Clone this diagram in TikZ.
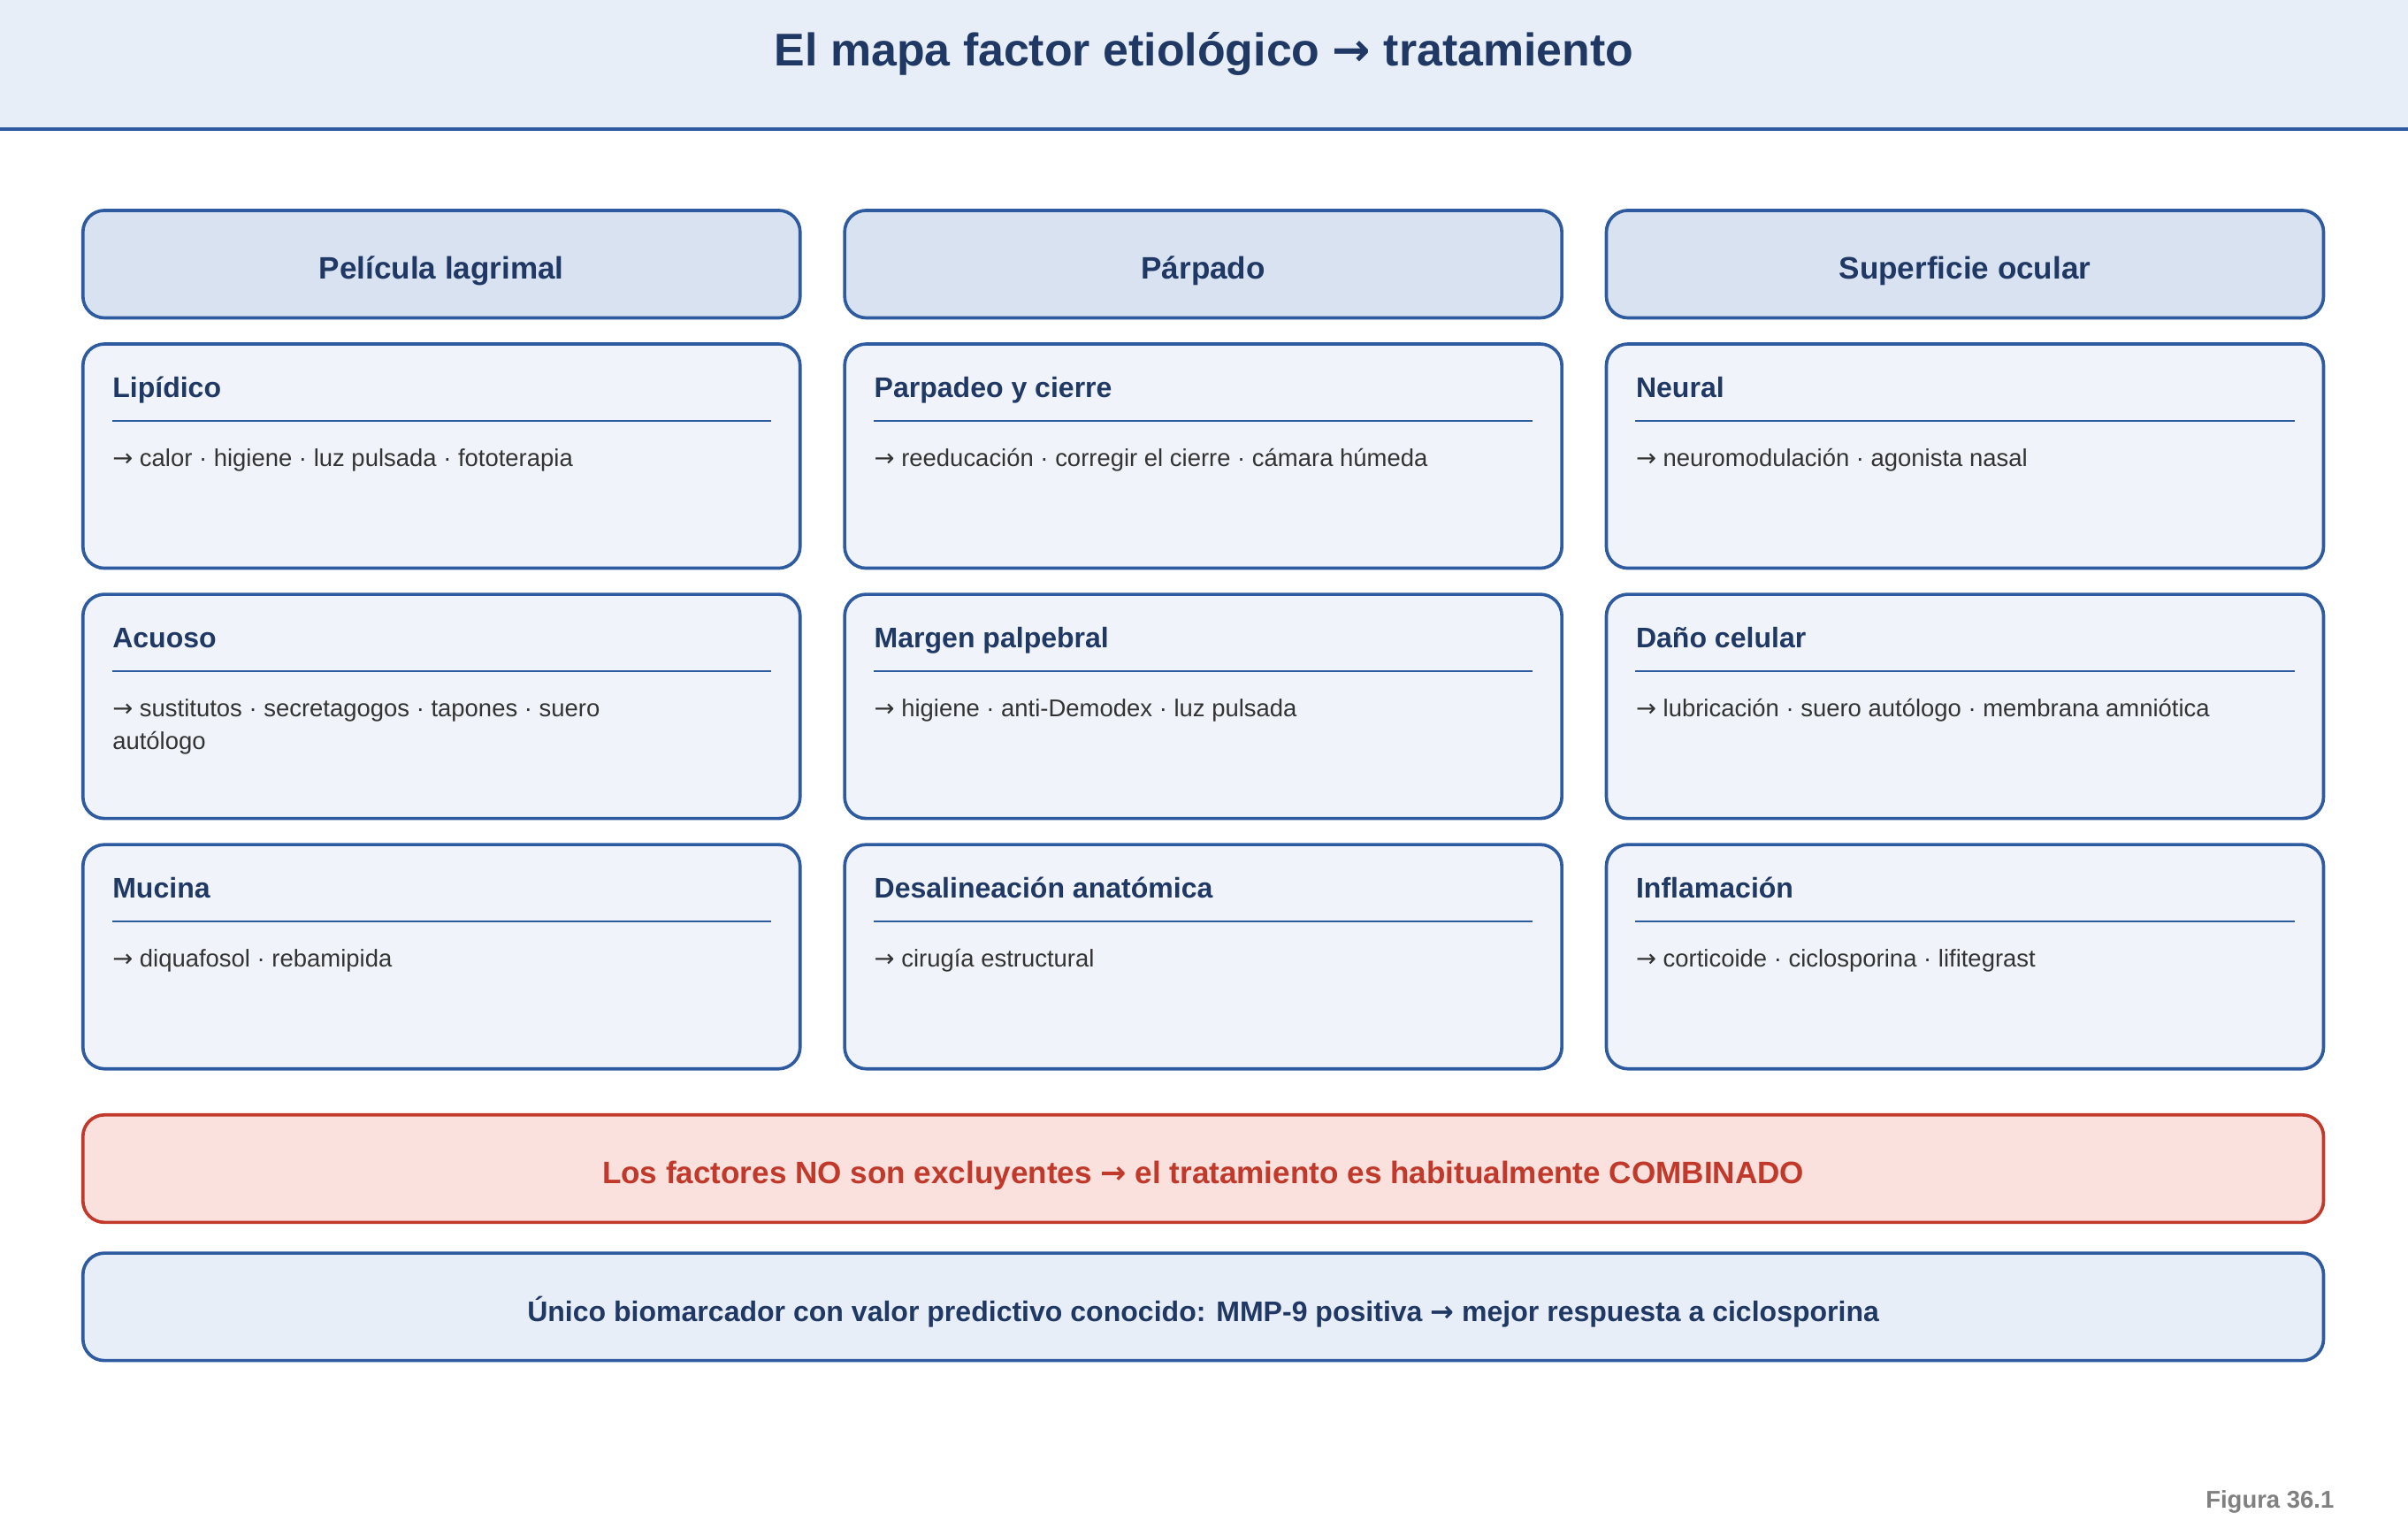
\documentclass[tikz,border=0pt]{standalone}
\usepackage{fontspec}
\setmainfont{Liberation Sans}
\newfontfamily\arwfont{DejaVu Sans}
\newcommand\arw{{\arwfont →}}
\usetikzlibrary{positioning}
\definecolor{navy}{HTML}{1F3864}
\definecolor{frame}{HTML}{2E5AA0}
\definecolor{headfill}{HTML}{D9E2F1}
\definecolor{cardfill}{HTML}{F0F4FA}
\definecolor{bandfill}{HTML}{E8EEF7}
\definecolor{alert}{HTML}{C0392B}
\definecolor{alertfill}{HTML}{FAE1DE}
\definecolor{bodytext}{HTML}{333333}
\begin{document}
\begin{tikzpicture}[
        x=0.02cm,y=-0.02cm,
        % Styles
        Head/.style={% column header
          draw=frame, fill=headfill, line width=1.2pt, rounded corners=8pt,
          minimum width=467*0.02cm, minimum height=70*0.02cm,
          text height=1.6ex+4.5pt, text depth=0.4ex,
          font=\fontsize{11.5}{14}\selectfont\bfseries, text=navy
        },
        Card/.style={% factor card
          draw=frame, fill=cardfill, line width=1.2pt, rounded corners=8pt,
          minimum width=467*0.02cm, minimum height=146*0.02cm
        },
        CardTitle/.style={anchor=base west, inner sep=0pt, text=navy,
          font=\fontsize{10.5}{13}\selectfont\bfseries},
        CardText/.style={anchor=north west, inner sep=0pt, text=bodytext, align=left,
          font=\fontsize{9}{12}\selectfont},
        Banner/.style={% wide boxes
          line width=1.2pt, rounded corners=8pt,
          minimum width=1459*0.02cm, minimum height=70*0.02cm,
          text height=1.6ex+4.5pt, text depth=0.4ex,
          font=\fontsize{11.5}{14}\selectfont\bfseries
        }
      ]
      \useasboundingbox (0,0) rectangle (1568,995);

      % Title band
      \fill[bandfill] (0,0) rectangle (1568,84);
      \draw[frame, line width=1.5pt] (0,84) coordinate (BandL) -- (1568,84) coordinate (BandR);
      \node[text=navy, font=\fontsize{17}{20}\selectfont\bfseries] (Title) at (784,35)
        {El mapa factor etiológico \arw{} tratamiento};

      % Column headers
      \node[Head] (H1) at (287.5,172) {Película lagrimal};
      \node[Head] (H2) at (783.5,172) {Párpado};
      \node[Head] (H3) at (1279.5,172) {Superficie ocular};

      % Cards: column/row/name/title/treatment
      \foreach \c/\r/\n/\t/\d in {
          0/0/LIP/Lipídico/{\arw{} calor · higiene · luz pulsada · fototerapia},
          0/1/ACU/Acuoso/{\arw{} sustitutos · secretagogos · tapones · suero\\autólogo},
          0/2/MUC/Mucina/{\arw{} diquafosol · rebamipida},
          1/0/PAR/Parpadeo y cierre/{\arw{} reeducación · corregir el cierre · cámara húmeda},
          1/1/MAR/Margen palpebral/{\arw{} higiene · anti-Demodex · luz pulsada},
          1/2/DES/Desalineación anatómica/{\arw{} cirugía estructural},
          2/0/NEU/Neural/{\arw{} neuromodulación · agonista nasal},
          2/1/DAN/Daño celular/{\arw{} lubricación · suero autólogo · membrana amniótica},
          2/2/INF/Inflamación/{\arw{} corticoide · ciclosporina · lifitegrast}}{
        \node[Card] (\n) at ({287.5+496*\c},{297+163*\r}) {};
        \node[CardTitle] (\n-t) at ([xshift=20*0.02cm, yshift=-36*0.02cm]\n.north west) {\t};
        \draw[frame, line width=0.7pt] ([xshift=20*0.02cm, yshift=-51*0.02cm]\n.north west)
          -- ([xshift=-20*0.02cm, yshift=-51*0.02cm]\n.north east);
        \node[CardText] (\n-d) at ([xshift=20*0.02cm, yshift=-69*0.02cm]\n.north west) {\d};
      }

      % Banners
      \node[Banner, draw=alert, fill=alertfill, text=alert] (Comb) at (783.5,761)
        {Los factores NO son excluyentes \arw{} el tratamiento es habitualmente COMBINADO};
      \node[Banner, draw=frame, fill=bandfill, text=navy, font=\fontsize{10.5}{13}\selectfont\bfseries]
        (Bio) at (783.5,851)
        {Único biomarcador con valor predictivo conocido: MMP-9 positiva \arw{} mejor respuesta a ciclosporina};

      \node[anchor=east, text=gray, font=\fontsize{9}{11}\selectfont\bfseries] (Fig) at (1526,978) {Figura 36.1};
\end{tikzpicture}
\end{document}
